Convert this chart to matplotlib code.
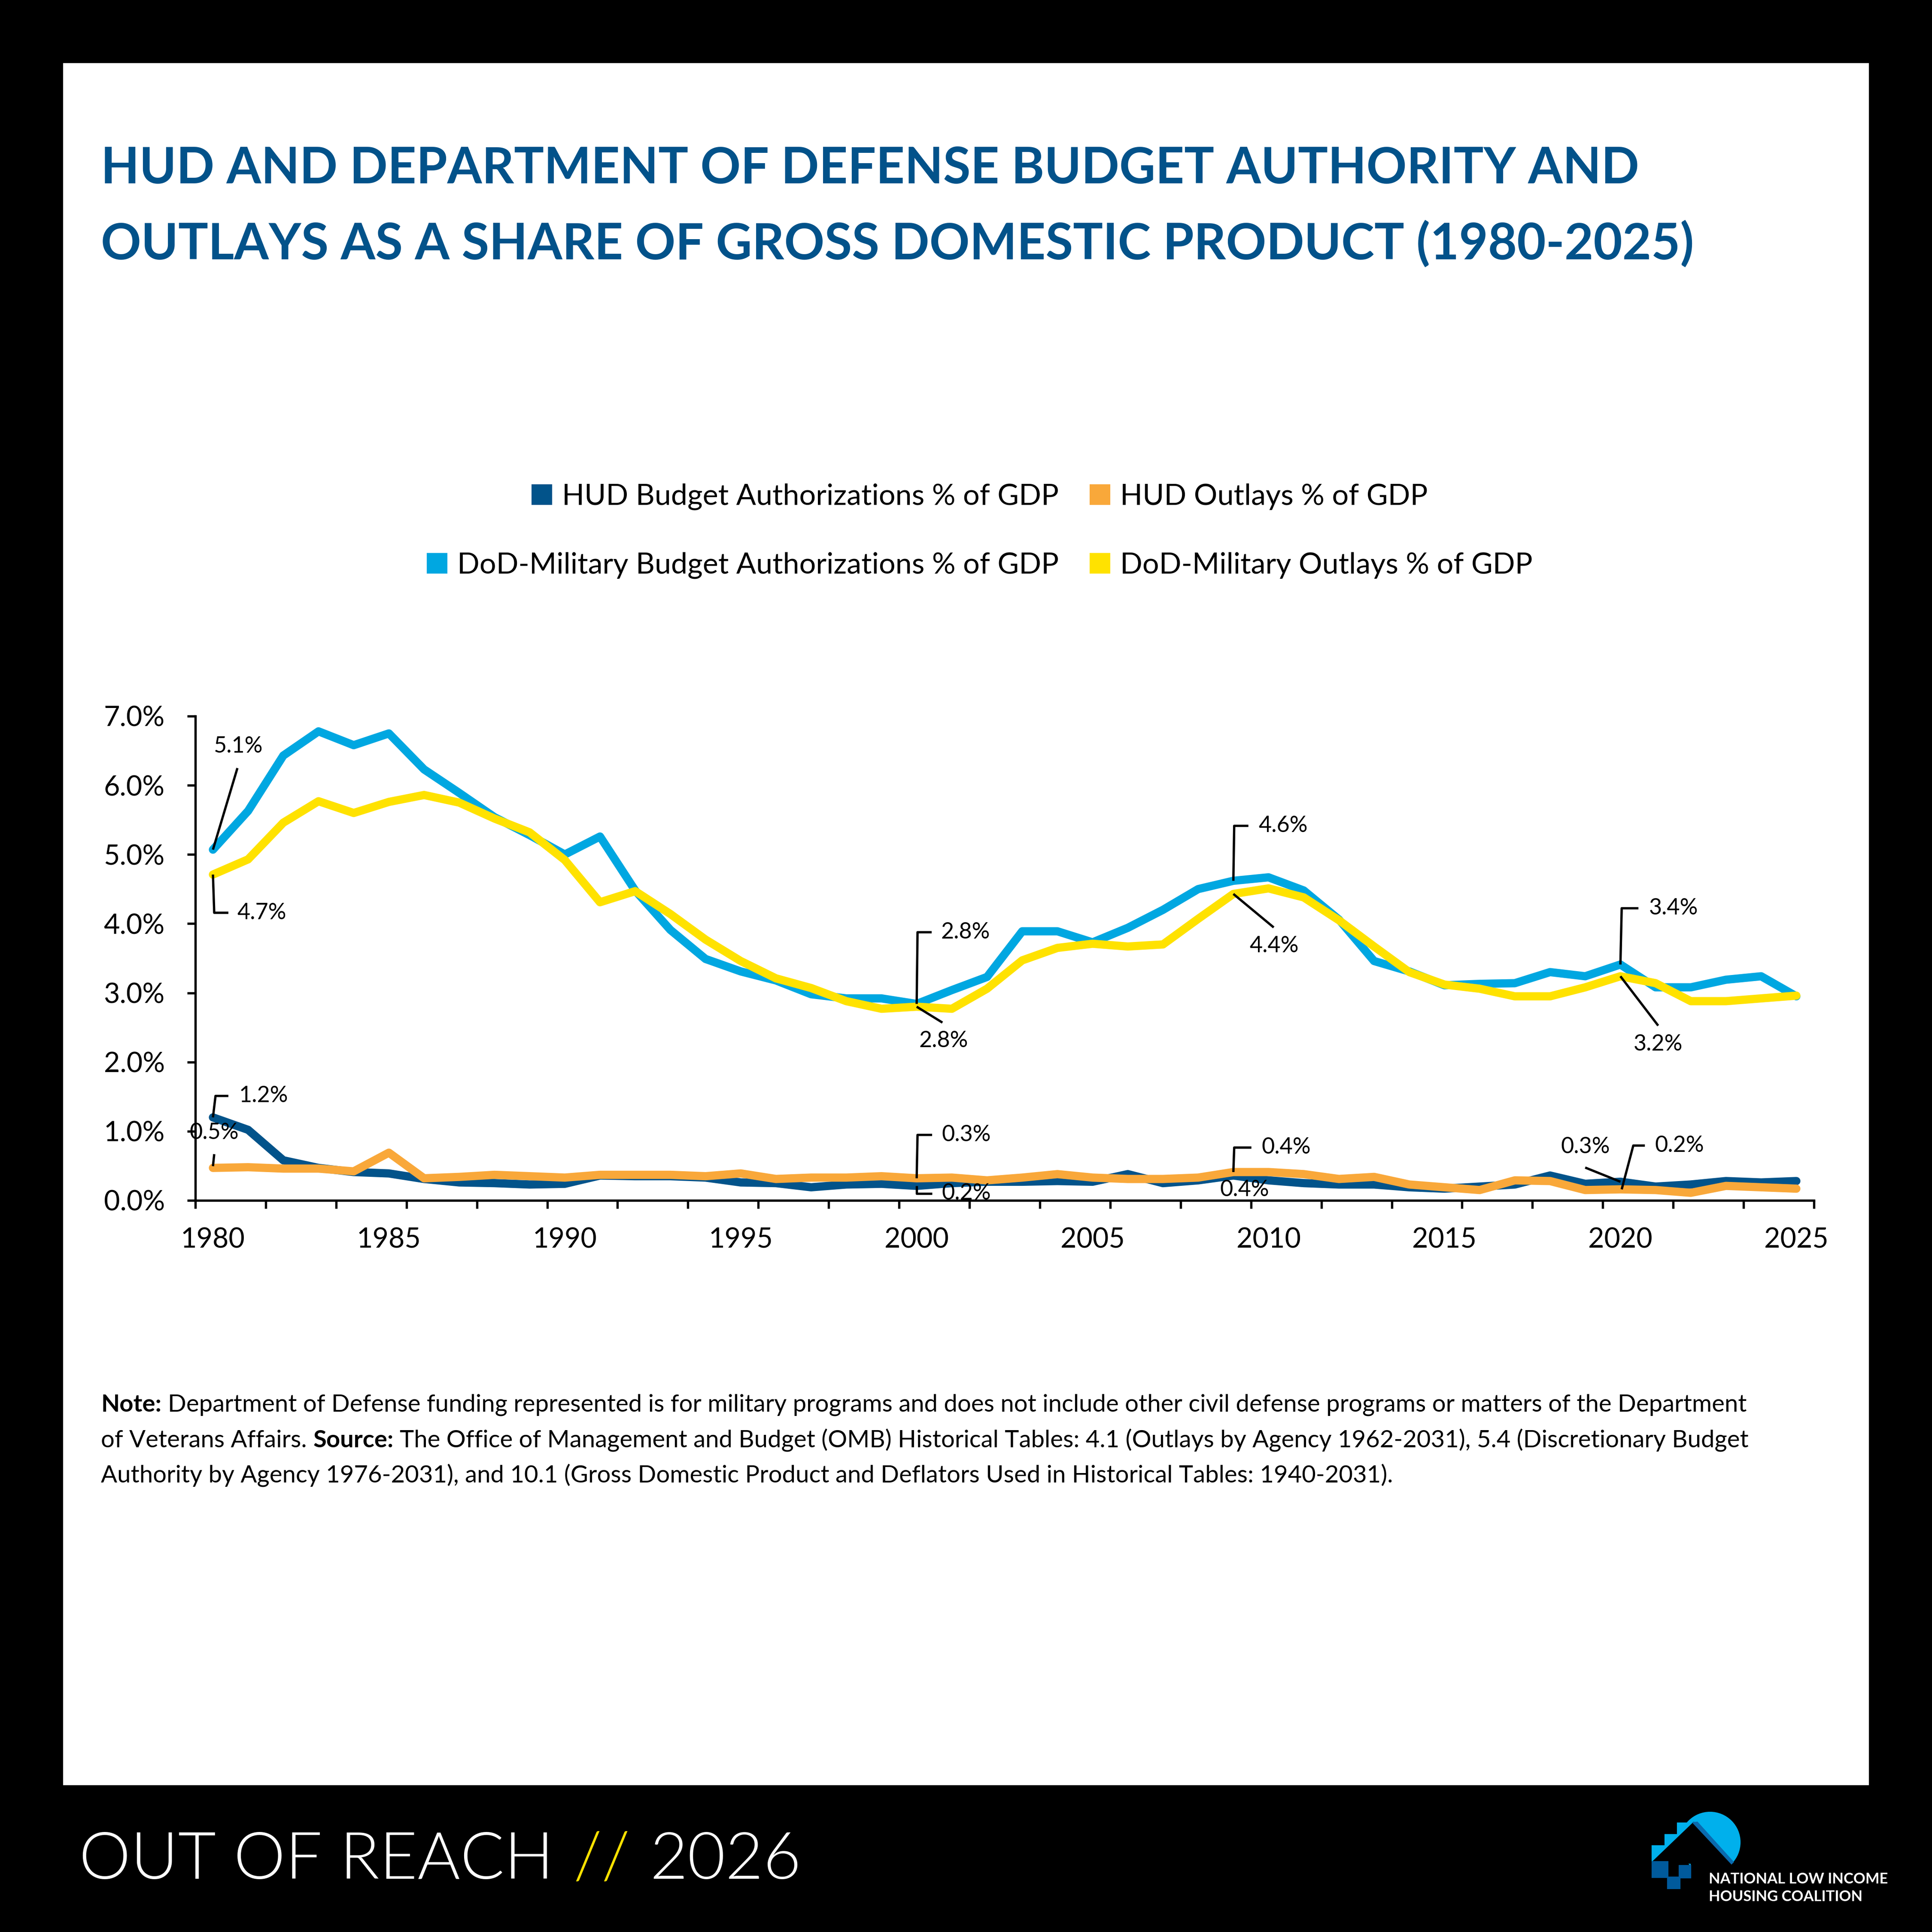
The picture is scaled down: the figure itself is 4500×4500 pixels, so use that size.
import matplotlib
matplotlib.use("Agg")
import matplotlib.pyplot as plt
from matplotlib.patches import Patch, Rectangle, Polygon, Circle
import numpy as np

# ---------------- data ----------------
years = list(range(1980, 2026))

hud_ba = [1.20, 1.02, 0.58, 0.47, 0.41, 0.39, 0.31, 0.26, 0.25, 0.23,
          0.24, 0.36, 0.35, 0.35, 0.33, 0.26, 0.25, 0.19, 0.23, 0.24,
          0.21, 0.25, 0.27, 0.27, 0.28, 0.27, 0.38, 0.25, 0.29, 0.36,
          0.29, 0.25, 0.23, 0.23, 0.19, 0.17, 0.20, 0.23, 0.36, 0.24,
          0.27, 0.20, 0.23, 0.28, 0.26, 0.28]

hud_out = [0.47, 0.48, 0.46, 0.46, 0.42, 0.69, 0.32, 0.34, 0.37, 0.35,
           0.33, 0.37, 0.37, 0.37, 0.35, 0.39, 0.31, 0.33, 0.33, 0.35,
           0.32, 0.33, 0.29, 0.33, 0.38, 0.33, 0.31, 0.31, 0.33, 0.41,
           0.41, 0.38, 0.31, 0.34, 0.23, 0.19, 0.15, 0.29, 0.28, 0.15,
           0.16, 0.15, 0.11, 0.21, 0.19, 0.17]

dod_ba = [5.07, 5.63, 6.43, 6.78, 6.58, 6.75, 6.23, 5.89, 5.54, 5.28,
          5.00, 5.26, 4.48, 3.91, 3.49, 3.31, 3.18, 2.98, 2.92, 2.92,
          2.84, 3.04, 3.23, 3.89, 3.89, 3.73, 3.94, 4.20, 4.50, 4.62,
          4.67, 4.48, 4.06, 3.46, 3.31, 3.11, 3.13, 3.14, 3.30, 3.24,
          3.41, 3.08, 3.08, 3.19, 3.24, 2.95]

dod_out = [4.71, 4.93, 5.46, 5.77, 5.60, 5.76, 5.86, 5.75, 5.52, 5.32,
           4.92, 4.31, 4.47, 4.14, 3.77, 3.46, 3.21, 3.07, 2.88, 2.77,
           2.80, 2.77, 3.06, 3.47, 3.65, 3.71, 3.67, 3.70, 4.07, 4.43,
           4.51, 4.38, 4.05, 3.67, 3.30, 3.12, 3.06, 2.95, 2.95, 3.08,
           3.24, 3.14, 2.88, 2.88, 2.92, 2.96]

series_names = ["HUD Budget Authorizations % of GDP",
                "HUD Outlays % of GDP",
                "DoD-Military Budget Authorizations % of GDP",
                "DoD-Military Outlays % of GDP"]

y_ticks = [0, 1, 2, 3, 4, 5, 6, 7]
x_label_years = [1980, 1985, 1990, 1995, 2000, 2005, 2010, 2015, 2020, 2025]

title_lines = ["HUD AND DEPARTMENT OF DEFENSE BUDGET AUTHORITY AND",
               "OUTLAYS AS A SHARE OF GROSS DOMESTIC PRODUCT (1980-2025)"]

note_lines = [
    [("Note:", "bold"),
     ("Department of Defense funding represented is for military programs and does not include other civil defense programs or matters of the Department", "normal")],
    [("of Veterans Affairs.", "normal"), ("Source:", "bold"),
     ("The Office of Management and Budget (OMB) Historical Tables: 4.1 (Outlays by Agency 1962-2031), 5.4 (Discretionary Budget", "normal")],
    [("Authority by Agency 1976-2031), and 10.1 (Gross Domestic Product and Deflators Used in Historical Tables: 1940-2031).", "normal")],
]

footer_parts = ["OUT OF REACH", "//", "2026"]
logo_lines = ["NATIONAL LOW INCOME", "HOUSING COALITION"]

# ---------------- style ----------------
C_HUD_BA = "#02538A"
C_HUD_OUT = "#F9A83A"
C_DOD_BA = "#00A7E1"
C_DOD_OUT = "#FFE200"
C_TITLE = "#02528A"

plt.rcParams["font.family"] = ["Lato", "DejaVu Sans"]

W = H = 4500
fig = plt.figure(figsize=(15, 15), dpi=300)
renderer = fig.canvas.get_renderer()


def fy(py):
    return 1 - py / H


# background frame
bg = fig.add_axes([0, 0, 1, 1], zorder=-10)
bg.set_xlim(0, W)
bg.set_ylim(H, 0)
bg.axis("off")
bg.add_patch(Rectangle((0, 0), W, H, color="black"))
bg.add_patch(Rectangle((149, 149), 4351 - 149, 4156 - 149, color="white"))

# title
for i, line in enumerate(title_lines):
    fig.text(235 / W, fy(427 + i * 177.6), line, fontsize=27.9, fontweight="bold",
             color=C_TITLE, ha="left", va="baseline")

# ---------------- plot ----------------
ax = fig.add_axes([455 / W, fy(2796), (4225 - 455) / W, (2796 - 1668) / H])
ax.set_xlim(years[0] - 0.5, years[-1] + 0.5)
ax.set_ylim(0, 7)

LW = 4.6
for vals, col in [(hud_ba, C_HUD_BA), (hud_out, C_HUD_OUT),
                  (dod_ba, C_DOD_BA), (dod_out, C_DOD_OUT)]:
    ax.plot(years, vals, color=col, lw=LW, solid_capstyle="round",
            solid_joinstyle="round", zorder=3, clip_on=False)

for s in ["top", "right"]:
    ax.spines[s].set_visible(False)
for s in ["left", "bottom"]:
    ax.spines[s].set_linewidth(1.3)
    ax.spines[s].set_color("black")

ax.set_yticks(y_ticks)
ax.set_yticklabels([f"{v:.1f}%" for v in y_ticks])
ax.tick_params(axis="y", direction="out", length=4.6, width=1.3, pad=12.5,
               labelsize=15.5, colors="black")
ax.set_xticks(x_label_years)
ax.set_xticklabels([str(v) for v in x_label_years])
ax.set_xticks(np.arange(years[0] - 0.5, years[-1] + 1, 2), minor=True)
ax.tick_params(axis="x", which="major", length=0, pad=15, labelsize=15.5)
ax.tick_params(axis="x", which="minor", direction="out", length=4.5, width=1.3)


def off(x, y, dx, dy):
    X, Y = ax.transData.transform((x, y))
    return ax.transData.inverted().transform((X + dx, Y + dy))


yr = {y: i for i, y in enumerate(years)}
ann = [
    (dod_ba, 1980, [(0, 0), (57, 190)], (58, 241), "center"),
    (dod_out, 1980, [(0, 0), (3, -89), (36, -89)], (56, -89), "left"),
    (dod_ba, 2000, [(0, 0), (2, 167), (35, 167)], (56, 167), "left"),
    (dod_out, 2000, [(0, 0), (60, -37)], (63, -80), "center"),
    (dod_ba, 2009, [(0, 0), (2, 128), (35, 128)], (59, 128), "left"),
    (dod_out, 2009, [(0, 0), (94, -78)], (95, -121), "center"),
    (dod_ba, 2020, [(0, 0), (3, 131), (42, 131)], (67, 131), "left"),
    (dod_out, 2020, [(0, 0), (88, -115)], (88, -159), "center"),
    (hud_ba, 1980, [(0, 0), (6, 50), (36, 50)], (61, 50), "left"),
    (hud_out, 1980, [(0, 4), (3, 32)], (3, 82), "center"),
    (hud_out, 2000, [(0, 0), (2, 101), (36, 101)], (58, 101), "left"),
    (hud_ba, 2000, [(0, 0), (0, -18), (36, -18)], (58, -17), "left"),
    (hud_out, 2009, [(0, 0), (2, 57), (42, 57)], (66, 57), "left"),
    (hud_ba, 2009, None, (26, -34), "center"),
    (hud_ba, 2020, [(0, 0), (-82, 33)], (-82, 81), "center"),
    (hud_out, 2020, [(3, 0), (30, 102), (57, 102)], (80, 102), "left"),
]
for series, year, leader, toff, ha in ann:
    x0, y0 = year, series[yr[year]]
    if leader:
        pts = np.array([off(x0, y0, dx, dy) for dx, dy in leader])
        ax.plot(pts[:, 0], pts[:, 1], color="black", lw=1.3, zorder=6,
                clip_on=False, solid_capstyle="butt")
    tx, ty = off(x0, y0, *toff)
    ax.text(tx, ty, f"{y0:.1f}%", fontsize=12.5, ha=ha, va="center",
            color="black", zorder=7, clip_on=False)

# ---------------- legend ----------------
cols = [C_HUD_BA, C_HUD_OUT, C_DOD_BA, C_DOD_OUT]
for row, (cx, cy) in enumerate([(2282, 1157), (2282, 1317)]):
    hs = [Patch(facecolor=cols[2 * row + k], edgecolor="none") for k in range(2)]
    fig.legend(handles=hs, labels=series_names[2 * row:2 * row + 2], ncol=2,
               loc="center", bbox_to_anchor=(cx / W, fy(cy)), frameon=False,
               fontsize=16.4, handlelength=0.7, handleheight=0.7,
               handletextpad=0.34, columnspacing=1.05, borderpad=0,
               borderaxespad=0)


# ---------------- rich text helper ----------------
def rich(x, y_base, pieces, size, gap_em):
    for txt, weight, color in pieces:
        t = fig.text(x / W, fy(y_base), txt, fontsize=size, fontweight=weight,
                     color=color, ha="left", va="baseline")
        bb = t.get_window_extent(renderer=renderer)
        x = bb.x1 + gap_em * size * 300 / 72


for i, line in enumerate(note_lines):
    rich(235, 3288 + i * 83, [(t, w, "black") for t, w in line], 13.5, 0.26)

# footer
rich(184, 4376, [(footer_parts[0], 300, "white"),
                 (footer_parts[1], 300, "#FFE200"),
                 (footer_parts[2], 300, "white")], 36.5, 0.3)

# ---------------- logo ----------------
LB = "#00B0EC"
DB = "#005A9C"
bg.add_patch(Circle((3983, 4291), 69, color=LB))
bg.add_patch(Polygon([(3849, 4337), (3849, 4300), (3879, 4300), (3879, 4274),
                      (3908, 4274), (3908, 4247), (3945, 4247)], closed=True,
                     color=LB))
bg.add_patch(Polygon([(3849, 4338), (3945, 4246), (4034, 4340)], closed=True,
                     color="black"))
bg.add_patch(Rectangle((3940, 4339), 120, 35, color="black"))
bg.add_patch(Polygon([(3945, 4246), (3953, 4245), (4036, 4337), (4033, 4340)],
                     closed=True, color="#0A6AAE"))
bg.add_patch(Rectangle((3849, 4337), 35, 35, color=DB))
bg.add_patch(Rectangle((3912, 4346), 25, 27, color=DB))
bg.add_patch(Rectangle((3885, 4373), 27, 25, color=DB))
for i, t in enumerate(logo_lines):
    fig.text(3980 / W, fy(4387 + i * 41), t, fontsize=8.3, fontweight="bold",
             color="white", ha="left", va="baseline")

fig.savefig("out.png", dpi=300)
